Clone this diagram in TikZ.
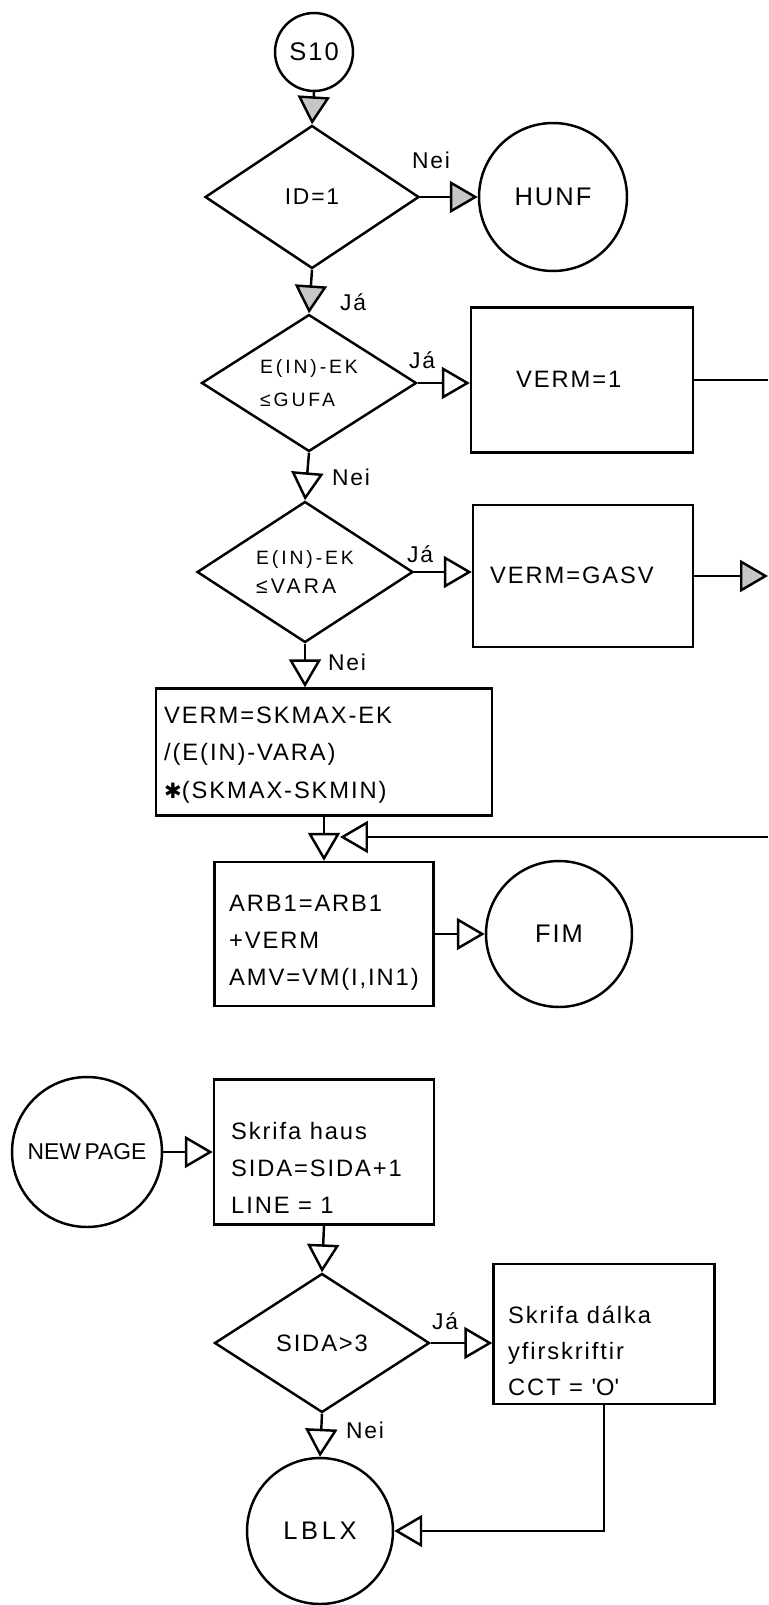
\documentclass[tikz,border=0pt]{standalone}
\usepackage{fontspec}
\setmainfont{Liberation Sans}[LetterSpace=8]
\newfontfamily\dejavu{DejaVu Sans}
\usetikzlibrary{shapes.geometric,arrows.meta}

\begin{document}
\begin{tikzpicture}[x=0.02cm, y=-0.02cm, line width=1.4pt,
    term/.style={draw, circle, inner sep=0pt, font=\fontsize{14.5}{17}\selectfont},
    proc/.style={draw, rectangle, inner sep=0pt},
    dec/.style={draw, diamond, shape aspect=1.55, inner sep=0pt, align=left},
    txt/.style={inner sep=0pt, align=left, anchor=west, font=\fontsize{13.5}{21}\selectfont},
    yn/.style={inner sep=0pt, font=\fontsize{13}{16}\selectfont},
    flow/.style={-{Triangle[length=0.56cm, width=0.64cm, fill=white]}},
    flowg/.style={-{Triangle[length=0.56cm, width=0.64cm, fill=gray!45]}}]
  \useasboundingbox (0,0) rectangle (768,1605);

  \node[term, minimum size=1.56cm] (s10) at (314,52) {S10};
  \node[dec, minimum width=4.28cm, minimum height=2.86cm, font=\fontsize{13}{16}\selectfont] (id) at (312,197) {ID=1};
  \node[term, minimum size=2.96cm] (hunf) at (553,197) {HUNF};
  \node[dec, minimum width=4.3cm, minimum height=2.74cm, font=\fontsize{11}{19}\selectfont\addfontfeature{LetterSpace=15}] (gufa) at (309,383) {E(IN)-EK\\≤GUFA};
  \node[proc, minimum width=4.44cm, minimum height=2.9cm] (verm1) at (582,380) {};
  \node[dec, minimum width=4.32cm, minimum height=2.82cm, font=\fontsize{11}{16}\selectfont\addfontfeature{LetterSpace=15}] (vara) at (305,572) {E(IN)-EK\\{\fontsize{12}{16}\selectfont ≤VARA}};
  \node[proc, minimum width=4.4cm, minimum height=2.84cm] (gasv) at (583,576) {};
  \node[proc, minimum width=6.72cm, minimum height=2.54cm] (skmax) at (324,752) {};
  \node[proc, minimum width=4.38cm, minimum height=2.88cm] (arb) at (324,934) {};
  \node[term, minimum size=2.92cm] (fim) at (559,934) {FIM};
  \node[term, minimum size=3cm, font=\fontsize{13}{16}\selectfont\addfontfeature{LetterSpace=0}] (newpage) at (87,1152) {NEW\,PAGE};
  \node[proc, minimum width=4.4cm, minimum height=2.9cm] (haus) at (324,1152) {};
  \node[dec, minimum width=4.3cm, minimum height=2.78cm, font=\fontsize{13.5}{16}\selectfont] (sida) at (322,1343) {SIDA>3};
  \node[proc, minimum width=4.42cm, minimum height=2.8cm] (dalka) at (604,1334) {};
  \node[term, minimum size=2.92cm, font=\fontsize{14.5}{17}\selectfont\addfontfeature{LetterSpace=14}] (lblx) at (320,1531) {LBLX};

  \node[txt] (verm1t) at (515,379) {VERM=1};
  \node[txt] (gasvt) at (489,575) {VERM=GASV};
  \node[txt, font=\fontsize{13.5}{21.5}\selectfont] (skmaxt) at (163,755) {VERM=SKMAX-EK\\/(E(IN)-VARA)\\{\dejavu\fontsize{12}{21.5}\selectfont ✱}(SKMAX-SKMIN)};
  \node[txt] (arbt) at (228,943) {ARB1=ARB1\\+VERM\\AMV=VM(I,IN1)};
  \node[txt] (haust) at (230,1168) {Skrifa haus\\SIDA=SIDA+1\\LINE = 1};
  \node[txt, font=\fontsize{13.5}{20.5}\selectfont] (dalkat) at (507,1351) {Skrifa dálka\\yfirskriftir\\CCT = \textquotesingle O\textquotesingle};

  \node[yn] (nei1) at (431,160) {Nei};
  \node[yn] (ja1) at (353,302) {Já};
  \node[yn] (ja2) at (422,360) {Já};
  \node[yn] (nei2) at (351,477) {Nei};
  \node[yn] (ja3) at (420,554) {Já};
  \node[yn] (nei3) at (347,662) {Nei};
  \node[yn] (ja4) at (445,1321) {Já};
  \node[yn] (nei4) at (365,1430) {Nei};

  \coordinate (ut1) at (768,380);
  \coordinate (ut2) at (768,576);
  \coordinate (inn) at (768,837);
  \coordinate (sam) at (340,837);

  \draw[flowg] (s10.south) -- (id.north);
  \draw[flowg] (id.east) -- (hunf.west);
  \draw[flowg] (id.south) -- (gufa.north);
  \draw[flow] (gufa.east) -- (gufa.east -| verm1.west);
  \draw[flow] (gufa.south) -- (vara.north);
  \draw (verm1.east) -- (ut1);
  \draw[flow] (vara.east) -- (vara.east -| gasv.west);
  \draw[flowg] (gasv.east) -- (ut2);
  \draw[flow] (vara.south) -- (vara.south |- skmax.north);
  \draw[flow] (skmax.south) -- (arb.north);
  \draw[flow] (inn) -- (sam);
  \draw[flow] (arb.east) -- (fim.west);
  \draw[flow] (newpage.east) -- (haus.west);
  \draw[flow] (haus.south) -- (sida.north);
  \draw[flow] (sida.east) -- (sida.east -| dalka.west);
  \draw[flow] (sida.south) -- (lblx.north);
  \draw[flow] (dalka.south) |- (lblx);
\end{tikzpicture}
\end{document}
